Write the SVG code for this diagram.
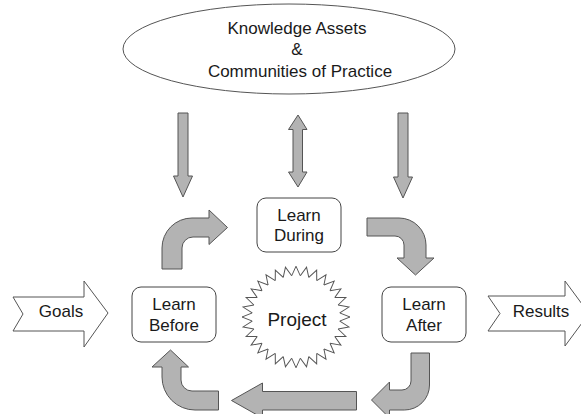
<svg xmlns="http://www.w3.org/2000/svg" xmlns:xlink="http://www.w3.org/1999/xlink" width="581" height="414" viewBox="0 0 581 414">
<style>
  .txt { font-family: "Liberation Sans", Arial, sans-serif; font-size: 17px; fill: #1a1a1a; text-anchor: middle; }
  .box { fill: #ffffff; stroke: #444444; stroke-width: 1; }
  .arr { fill: #b3b3b3; stroke: #555555; stroke-width: 1; stroke-linejoin: miter; }
  .wide { fill: #ffffff; stroke: #555555; stroke-width: 1; }
  .tooth { fill: none; stroke: #555555; stroke-width: 1; stroke-linejoin: miter; }
</style>
<defs>
  <polyline id="tooth" class="tooth" points="-4.313,-43.788 0,-54 4.313,-43.788"/>
</defs>
<rect width="581" height="414" fill="#ffffff"/>

<g id="knowledge">
  <ellipse cx="289" cy="49" rx="166" ry="45" class="wide"/>
  <text class="txt" x="297" y="34">Knowledge Assets</text>
  <text class="txt" x="297" y="55">&amp;</text>
  <text class="txt" x="300" y="77">Communities of Practice</text>
</g>

<g id="learn-during">
  <rect x="257" y="198" width="84" height="54" rx="9" class="box"/>
  <text class="txt" x="299" y="221">Learn</text>
  <text class="txt" x="299" y="241">During</text>
</g>

<g id="learn-before">
  <rect x="132" y="287" width="84" height="55" rx="9" class="box"/>
  <text class="txt" x="174" y="310">Learn</text>
  <text class="txt" x="174" y="331">Before</text>
</g>

<g id="learn-after">
  <rect x="382" y="287" width="84" height="55" rx="9" class="box"/>
  <text class="txt" x="424" y="310">Learn</text>
  <text class="txt" x="424" y="331">After</text>
</g>

<g id="project">
  <g transform="translate(296,317) scale(1,0.94)">
    <use xlink:href="#tooth" href="#tooth"/>
    <use xlink:href="#tooth" href="#tooth" transform="rotate(11.25)"/>
    <use xlink:href="#tooth" href="#tooth" transform="rotate(22.5)"/>
    <use xlink:href="#tooth" href="#tooth" transform="rotate(33.75)"/>
    <use xlink:href="#tooth" href="#tooth" transform="rotate(45)"/>
    <use xlink:href="#tooth" href="#tooth" transform="rotate(56.25)"/>
    <use xlink:href="#tooth" href="#tooth" transform="rotate(67.5)"/>
    <use xlink:href="#tooth" href="#tooth" transform="rotate(78.75)"/>
    <use xlink:href="#tooth" href="#tooth" transform="rotate(90)"/>
    <use xlink:href="#tooth" href="#tooth" transform="rotate(101.25)"/>
    <use xlink:href="#tooth" href="#tooth" transform="rotate(112.5)"/>
    <use xlink:href="#tooth" href="#tooth" transform="rotate(123.75)"/>
    <use xlink:href="#tooth" href="#tooth" transform="rotate(135)"/>
    <use xlink:href="#tooth" href="#tooth" transform="rotate(146.25)"/>
    <use xlink:href="#tooth" href="#tooth" transform="rotate(157.5)"/>
    <use xlink:href="#tooth" href="#tooth" transform="rotate(168.75)"/>
    <use xlink:href="#tooth" href="#tooth" transform="rotate(180)"/>
    <use xlink:href="#tooth" href="#tooth" transform="rotate(191.25)"/>
    <use xlink:href="#tooth" href="#tooth" transform="rotate(202.5)"/>
    <use xlink:href="#tooth" href="#tooth" transform="rotate(213.75)"/>
    <use xlink:href="#tooth" href="#tooth" transform="rotate(225)"/>
    <use xlink:href="#tooth" href="#tooth" transform="rotate(236.25)"/>
    <use xlink:href="#tooth" href="#tooth" transform="rotate(247.5)"/>
    <use xlink:href="#tooth" href="#tooth" transform="rotate(258.75)"/>
    <use xlink:href="#tooth" href="#tooth" transform="rotate(270)"/>
    <use xlink:href="#tooth" href="#tooth" transform="rotate(281.25)"/>
    <use xlink:href="#tooth" href="#tooth" transform="rotate(292.5)"/>
    <use xlink:href="#tooth" href="#tooth" transform="rotate(303.75)"/>
    <use xlink:href="#tooth" href="#tooth" transform="rotate(315)"/>
    <use xlink:href="#tooth" href="#tooth" transform="rotate(326.25)"/>
    <use xlink:href="#tooth" href="#tooth" transform="rotate(337.5)"/>
    <use xlink:href="#tooth" href="#tooth" transform="rotate(348.75)"/>
  </g>
  <text class="txt" x="297" y="326" style="font-size:19px">Project</text>
</g>

<g id="goals">
  <polygon class="wide" points="13,297 84,297 84,281 108,313 84,347 84,331 13,331 23,314"/>
  <text class="txt" x="61" y="317">Goals</text>
</g>

<g id="results">
  <polygon class="wide" points="488,296 565,296 565,281 589,313.5 565,346 565,331 488,331 500,313.5"/>
  <text class="txt" x="541" y="317">Results</text>
</g>

<g id="connectors">
  <!-- down arrows from knowledge -->
  <polygon class="arr" points="178,113 188,113 188,176 192.5,176 183,197 173.5,176 178,176"/>
  <polygon class="arr" points="298,115 307,129.5 302.5,129.5 302.5,172 307,172 298,187 288.5,172 293,172 293,129.5 288.5,129.5"/>
  <polygon class="arr" points="398,113 408,113 408,177 412.5,177 403,198 393.5,177 398,177"/>
  <!-- Learn Before -> Learn During -->
  <path class="arr" d="M162,269 L162,248 A30,30 0 0 1 192,218 L209,218 L209,210 L227.5,227.5 L209,244.5 L209,237 L193,237 A11,11 0 0 0 182,248 L182,269 Z"/>
  <!-- Learn During -> Learn After -->
  <path class="arr" d="M367,218 L399,218 A27,27 0 0 1 426,245 L426,258 L434,258 L415.5,275 L397,258 L404,258 L404,245 A9,9 0 0 0 395,236 L367,236 Z"/>
  <!-- Learn After -> bottom -->
  <path class="arr" d="M411,353 L429.5,353 L429.5,385 A25,25 0 0 1 404.5,410 L389.5,410 L389.5,418 L371.5,400 L389.5,382 L389.5,390 L402,390 A9,9 0 0 0 411,381 Z"/>
  <!-- bottom straight arrow -->
  <polygon class="arr" points="356.5,391.5 356.5,410 262.5,410 262.5,418 231.5,400.5 262.5,383 262.5,391.5"/>
  <!-- bottom -> Learn Before -->
  <path class="arr" d="M218.5,391 L218.5,410 L195,410 A33,33 0 0 1 162,377 L162,367 L152,367 L170.5,350 L188.5,367 L181,367 L181,380 A11,11 0 0 0 192,391 Z"/>
</g>
</svg>
